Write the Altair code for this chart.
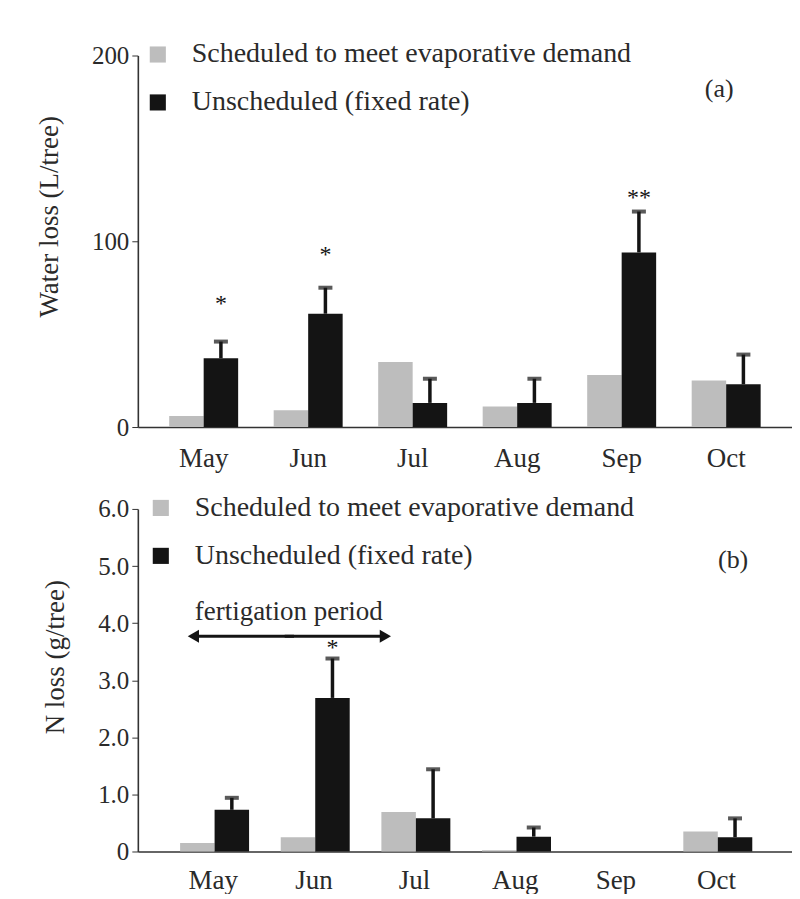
import altair as alt
import pandas as pd

FONT = "Liberation Serif"
TXT = "#2a2a2a"
INK = "#141414"

months = ["May", "Jun", "Jul", "Aug", "Sep", "Oct"]
series = ["Scheduled to meet evaporative demand", "Unscheduled (fixed rate)"]
colors = ["#bdbdbd", INK]

# Panel (a) water loss (L/tree)
a_sched = [6, 9, 35, 11, 28, 25]
a_unsched = [37, 61, 13, 13, 94, 23]
a_err = [9, 14, 13, 13, 22, 16]
a_star = ["*", "*", "", "", "**", ""]
a_star_y = [68, 94, None, None, 125, None]
a_ticks = [0, 100, 200]

# Panel (b) N loss (g/tree)
b_sched = [0.15, 0.25, 0.69, 0.02, 0.0, 0.35]
b_unsched = [0.73, 2.69, 0.58, 0.26, 0.0, 0.25]
b_err = [0.21, 0.69, 0.86, 0.16, None, 0.33]
b_star = ["", "*", "", "", "", ""]
b_star_y = [None, 3.62, None, None, None, None]
b_ticks = [0, 1, 2, 3, 4, 5, 6]

panel_labels = ["(a)", "(b)"]
arrow_months = ["May", "Jun", "Jul"]
arrow_y = 3.77
arrow_text = "fertigation period"
arrow_text_y = 4.2


def make_df(sched, unsched, err, star, star_y):
    rows = []
    for i, m in enumerate(months):
        rows.append(dict(month=m, series=series[0], value=sched[i], err=None, top=None,
                         star="", star_y=None))
        e = err[i]
        rows.append(dict(month=m, series=series[1], value=unsched[i], err=e,
                         top=(unsched[i] + e) if e is not None else None,
                         star=star[i], star_y=star_y[i]))
    return pd.DataFrame(rows)


def panel(df, ytitle, ydomain, yticks, label_expr, label, label_y, label_band,
          width, height, legend_x, legend_y, title_y, pad_outer, xlab_pad, extra=None):
    xscale = alt.Scale(domain=months, paddingInner=0.34, paddingOuter=pad_outer)
    xenc = alt.X("month:N", sort=months, scale=xscale,
                 axis=alt.Axis(title=None, ticks=False, labelAngle=0, labelFont=FONT,
                               labelFontSize=27, labelColor=TXT, labelPadding=xlab_pad,
                               domainColor="#333", domainWidth=1.6))
    xoff = alt.XOffset("series:N", sort=series, scale=alt.Scale(domain=series, paddingInner=0))
    yscale = alt.Scale(domain=ydomain, nice=False, zero=True)
    yaxis = alt.Axis(values=yticks, grid=False, title=ytitle, titleFont=FONT,
                     titleFontSize=27, titleFontWeight="normal", titleColor=TXT,
                     titlePadding=28, titleY=title_y, labelFont=FONT, labelFontSize=25,
                     labelColor=TXT, labelExpr=label_expr, tickSize=6, tickColor="#333",
                     domainColor="#333", domainWidth=1.6, labelPadding=3)
    base = alt.Chart(df)
    bars = base.mark_bar().encode(
        x=xenc, xOffset=xoff,
        y=alt.Y("value:Q", scale=yscale, axis=yaxis),
        color=alt.Color("series:N", sort=series,
                        scale=alt.Scale(domain=series, range=colors),
                        legend=alt.Legend(title=None, orient="none", legendX=legend_x,
                                          legendY=legend_y, symbolType="square",
                                          symbolSize=260, symbolStrokeWidth=0,
                                          labelFont=FONT, labelFontSize=28,
                                          labelColor=TXT, labelOffset=20,
                                          rowPadding=20, padding=0, labelLimit=700)),
    )
    errs = base.transform_filter("isValid(datum.err)")
    rule = errs.mark_rule(strokeWidth=3.5, color=INK).encode(
        x=xenc, xOffset=xoff, y="value:Q", y2="top:Q")
    cap = errs.mark_tick(thickness=4, size=14, color=INK, orient="horizontal").encode(
        x=xenc, xOffset=xoff, y="top:Q")
    stars = base.transform_filter("datum.star != ''").mark_text(
        font=FONT, fontSize=24, color=INK, baseline="middle", dy=3).encode(
        x=xenc, xOffset=xoff, y="star_y:Q", text="star:N")
    lab = alt.Chart(pd.DataFrame({"t": [label], "m": ["Oct"], "y": [label_y]})).mark_text(
        font=FONT, fontSize=26, color=TXT, align="center", baseline="middle").encode(
        x=alt.X("m:N", sort=months, scale=xscale, bandPosition=label_band),
        y="y:Q", text="t:N")
    layers = [bars, rule, cap, stars, lab]
    if extra is not None:
        layers += extra(xscale)
    return alt.layer(*layers).properties(width=width, height=height)


dfa = make_df(a_sched, a_unsched, a_err, a_star, a_star_y)
dfb = make_df(b_sched, b_unsched, b_err, b_star, b_star_y)

# arrow for the fertigation period (May -> Jul)
seg1 = pd.DataFrame({"m": arrow_months[:2], "y": [arrow_y] * 2})
seg2 = pd.DataFrame({"m": arrow_months[1:], "y": [arrow_y] * 2})
head_l = pd.DataFrame({"m": [arrow_months[0]], "y": [arrow_y]})
head_r = pd.DataFrame({"m": [arrow_months[2]], "y": [arrow_y]})
txt_df = pd.DataFrame({"m": [arrow_months[1]], "y": [arrow_text_y], "t": [arrow_text]})


def arrow_layers(xs):
    def X(bp):
        return alt.X("m:N", sort=months, scale=xs, bandPosition=bp)
    l1 = alt.Chart(seg1).mark_line(strokeWidth=3.2, color=INK).encode(x=X(0.2), y="y:Q")
    l2 = alt.Chart(seg2).mark_line(strokeWidth=3.2, color=INK).encode(x=X(0.06), y="y:Q")
    hl = alt.Chart(head_l).mark_point(shape="triangle-left", filled=True, size=170,
                                      color=INK, opacity=1).encode(x=X(0.2), y="y:Q")
    hr = alt.Chart(head_r).mark_point(shape="triangle-right", filled=True, size=170,
                                      color=INK, opacity=1).encode(x=X(0.06), y="y:Q")
    tx = alt.Chart(txt_df).mark_text(font=FONT, fontSize=27, color=TXT,
                                     baseline="middle").encode(x=X(0.12), y="y:Q", text="t:N")
    return [l1, l2, hl, hr, tx]


chart_a = panel(dfa, "Water loss (L/tree)", [0, 200], a_ticks, "datum.label",
                panel_labels[0], 182, 0.4, 655, 372, 6, -15, 161, 0.3, 19)
chart_b = panel(dfb, "N loss (g/tree)", [0, 6], b_ticks,
                "datum.value == 0 ? '0' : format(datum.value, '.1f')",
                panel_labels[1], 5.1, 0.75, 655, 343, 9, -15, 148, 0.42, 16,
                extra=arrow_layers)

chart = alt.vconcat(chart_a, chart_b, spacing=22).resolve_legend(
    color="independent").resolve_scale(y="independent", x="independent").properties(
    padding={"left": 27, "top": 32, "right": 0, "bottom": 0}
).configure_view(stroke=None)

chart.save("out.html", embed_options={"renderer": "svg", "actions": False})
